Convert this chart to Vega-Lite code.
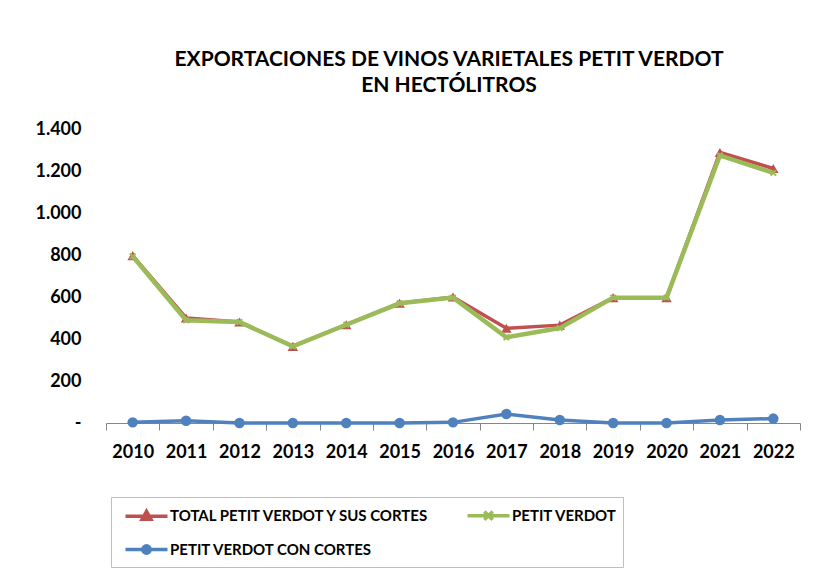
{
  "$schema": "https://vega.github.io/schema/vega-lite/v6.json",
  "width": 694,
  "height": 294,
  "autosize": {"type": "none"},
  "padding": {"left": 106, "top": 129, "right": 13, "bottom": 149},
  "background": "white",
  "config": {"view": {"stroke": null}},
  "title": {
    "text": ["EXPORTACIONES DE VINOS VARIETALES PETIT VERDOT", "EN HECTÓLITROS"],
    "font": "Lato",
    "fontSize": 21,
    "fontWeight": "bold",
    "color": "#000000",
    "anchor": "middle",
    "dx": -4,
    "offset": 24,
    "lineHeight": 26
  },
  "data": {
    "values": [
      {"year": "2010", "serie": "TOTAL PETIT VERDOT Y SUS CORTES", "value": 797},
      {"year": "2011", "serie": "TOTAL PETIT VERDOT Y SUS CORTES", "value": 500},
      {"year": "2012", "serie": "TOTAL PETIT VERDOT Y SUS CORTES", "value": 481},
      {"year": "2013", "serie": "TOTAL PETIT VERDOT Y SUS CORTES", "value": 365},
      {"year": "2014", "serie": "TOTAL PETIT VERDOT Y SUS CORTES", "value": 468},
      {"year": "2015", "serie": "TOTAL PETIT VERDOT Y SUS CORTES", "value": 570},
      {"year": "2016", "serie": "TOTAL PETIT VERDOT Y SUS CORTES", "value": 600},
      {"year": "2017", "serie": "TOTAL PETIT VERDOT Y SUS CORTES", "value": 451},
      {"year": "2018", "serie": "TOTAL PETIT VERDOT Y SUS CORTES", "value": 466},
      {"year": "2019", "serie": "TOTAL PETIT VERDOT Y SUS CORTES", "value": 597},
      {"year": "2020", "serie": "TOTAL PETIT VERDOT Y SUS CORTES", "value": 597},
      {"year": "2021", "serie": "TOTAL PETIT VERDOT Y SUS CORTES", "value": 1288},
      {"year": "2022", "serie": "TOTAL PETIT VERDOT Y SUS CORTES", "value": 1212},
      {"year": "2010", "serie": "PETIT VERDOT", "value": 794},
      {"year": "2011", "serie": "PETIT VERDOT", "value": 489},
      {"year": "2012", "serie": "PETIT VERDOT", "value": 481},
      {"year": "2013", "serie": "PETIT VERDOT", "value": 365},
      {"year": "2014", "serie": "PETIT VERDOT", "value": 468},
      {"year": "2015", "serie": "PETIT VERDOT", "value": 570},
      {"year": "2016", "serie": "PETIT VERDOT", "value": 597},
      {"year": "2017", "serie": "PETIT VERDOT", "value": 408},
      {"year": "2018", "serie": "PETIT VERDOT", "value": 452},
      {"year": "2019", "serie": "PETIT VERDOT", "value": 597},
      {"year": "2020", "serie": "PETIT VERDOT", "value": 597},
      {"year": "2021", "serie": "PETIT VERDOT", "value": 1274},
      {"year": "2022", "serie": "PETIT VERDOT", "value": 1191},
      {"year": "2010", "serie": "PETIT VERDOT CON CORTES", "value": 3},
      {"year": "2011", "serie": "PETIT VERDOT CON CORTES", "value": 11},
      {"year": "2012", "serie": "PETIT VERDOT CON CORTES", "value": 0},
      {"year": "2013", "serie": "PETIT VERDOT CON CORTES", "value": 0},
      {"year": "2014", "serie": "PETIT VERDOT CON CORTES", "value": 0},
      {"year": "2015", "serie": "PETIT VERDOT CON CORTES", "value": 0},
      {"year": "2016", "serie": "PETIT VERDOT CON CORTES", "value": 3},
      {"year": "2017", "serie": "PETIT VERDOT CON CORTES", "value": 43},
      {"year": "2018", "serie": "PETIT VERDOT CON CORTES", "value": 14},
      {"year": "2019", "serie": "PETIT VERDOT CON CORTES", "value": 0},
      {"year": "2020", "serie": "PETIT VERDOT CON CORTES", "value": 0},
      {"year": "2021", "serie": "PETIT VERDOT CON CORTES", "value": 14},
      {"year": "2022", "serie": "PETIT VERDOT CON CORTES", "value": 21}
    ]
  },
  "encoding": {
    "x": {
      "field": "year",
      "type": "ordinal",
      "scale": {"type": "band", "paddingInner": 0, "paddingOuter": 0},
      "axis": {
        "title": null,
        "labelAngle": 0,
        "labelFont": "Lato",
        "labelFontSize": 18,
        "labelFontWeight": "bold",
        "labelColor": "#000000",
        "domainColor": "#868686",
        "domainWidth": 1,
        "tickColor": "#868686",
        "tickBand": "extent",
        "tickSize": 7,
        "labelPadding": 13,
        "grid": false,
        "encode": {"ticks": {"update": {"y": {"value": -6.5}, "y2": {"value": 6.5}}}}
      }
    },
    "y": {
      "field": "value",
      "type": "quantitative",
      "scale": {"domain": [0, 1400]},
      "axis": {
        "title": null,
        "domain": false,
        "ticks": false,
        "grid": false,
        "values": [0, 200, 400, 600, 800, 1000, 1200, 1400],
        "labelFont": "Lato",
        "labelFontSize": 18,
        "labelFontWeight": "bold",
        "labelColor": "#000000",
        "labelPadding": 25,
        "labelExpr": "datum.value == 0 ? '-\u00a0\u00a0\u00a0' : replace(format(datum.value, ','), ',', '.')"
      }
    },
    "color": {
      "field": "serie",
      "type": "nominal",
      "scale": {
        "domain": ["TOTAL PETIT VERDOT Y SUS CORTES", "PETIT VERDOT", "PETIT VERDOT CON CORTES"],
        "range": ["#C0504D", "#9BBB59", "#4F81BD"]
      },
      "legend": {
        "title": null,
        "orient": "none",
        "legendX": 5,
        "legendY": 368,
        "direction": "horizontal",
        "columns": 2,
        "fillColor": "white",
        "strokeColor": "#BFBFBF",
        "padding": 6,
        "labelFont": "Lato",
        "labelFontSize": 15,
        "labelFontWeight": "bold",
        "labelColor": "#000000",
        "labelLimit": 500,
        "symbolSize": 441,
        "symbolStrokeWidth": 3.5,
        "columnPadding": 28,
        "rowPadding": 10,
        "labelOffset": 11,
        "symbolOffset": 17,
        "encode": {
          "symbols": {
            "update": {
              "shape": {"signal": "datum.value == 'PETIT VERDOT' ? 'M-2,0L2,0M-0.4,-0.4L0.4,0.4M-0.4,0.4L0.4,-0.4' : datum.value == 'PETIT VERDOT CON CORTES' ? 'M-2,0L2,0M-0.35,0A0.35,0.35,0,1,1,0.35,0A0.35,0.35,0,1,1,-0.35,0Z' : 'M-2,0L2,0M0,-0.45L0.42,0.3L-0.42,0.3Z'"},
              "fill": {"scale": "color", "field": "value"},
              "stroke": {"scale": "color", "field": "value"},
              "opacity": {"value": 1},
              "size": {"value": 441}
            }
          }
        }
      }
    }
  },
  "layer": [
    {
      "transform": [{"filter": "datum.serie == 'TOTAL PETIT VERDOT Y SUS CORTES'"}],
      "mark": {"type": "line", "strokeWidth": 3.5}
    },
    {
      "transform": [{"filter": "datum.serie == 'TOTAL PETIT VERDOT Y SUS CORTES'"}],
      "mark": {"type": "point", "shape": "triangle-up", "filled": true, "size": 110, "opacity": 1}
    },
    {
      "transform": [{"filter": "datum.serie == 'PETIT VERDOT'"}],
      "mark": {"type": "line", "strokeWidth": 4.5}
    },
    {
      "transform": [{"filter": "datum.serie == 'PETIT VERDOT'"}],
      "mark": {"type": "point", "shape": "M-1,-1L1,1M-1,1L1,-1", "filled": false, "size": 30, "strokeWidth": 2, "opacity": 1}
    },
    {
      "transform": [{"filter": "datum.serie == 'PETIT VERDOT CON CORTES'"}],
      "mark": {"type": "line", "strokeWidth": 3.5}
    },
    {
      "transform": [{"filter": "datum.serie == 'PETIT VERDOT CON CORTES'"}],
      "mark": {"type": "point", "shape": "circle", "filled": true, "size": 110, "opacity": 1}
    }
  ]
}
